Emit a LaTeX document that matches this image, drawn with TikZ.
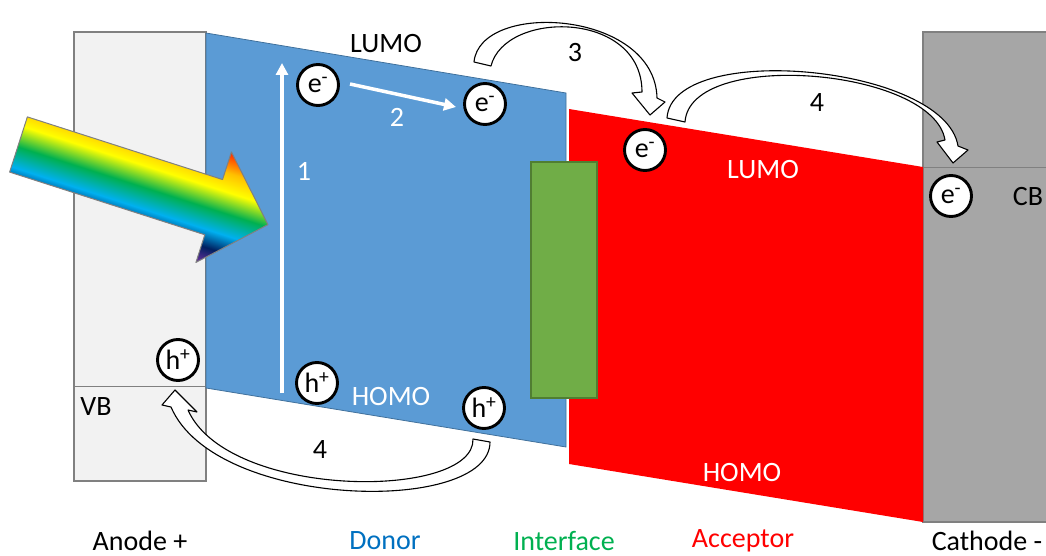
\documentclass[tikz,border=0pt]{standalone}
\usepackage{fontspec}
\setmainfont{Carlito}
\usetikzlibrary{arrows.meta}

\definecolor{donorblue}{HTML}{5B9BD5}
\definecolor{donoredge}{HTML}{41719C}
\definecolor{ifgreen}{HTML}{70AD47}
\definecolor{ifedge}{HTML}{507E32}
\definecolor{anodefill}{HTML}{F2F2F2}
\definecolor{cathodefill}{HTML}{A6A6A6}
\definecolor{framegray}{HTML}{808080}
\definecolor{labelblue}{HTML}{0070C0}
\definecolor{labelgreen}{HTML}{00B050}
\definecolor{rbred}{HTML}{FF2000}
\definecolor{rborange}{HTML}{FFC000}
\definecolor{rbyellow}{HTML}{FFFF00}
\definecolor{rbgreen}{HTML}{00B050}
\definecolor{rbcyan}{HTML}{00B0F0}
\definecolor{rbnavy}{HTML}{002060}
\definecolor{rbpurple}{HTML}{7030A0}

% light spectrum across the incoming arrow (top of head red, bottom purple)
\pgfdeclareverticalshading{spectrum}{100bp}{%
  color(0bp)=(rbpurple); color(25bp)=(rbpurple); color(32.5bp)=(rbnavy);
  color(40bp)=(rbcyan); color(49bp)=(rbgreen); color(58bp)=(rbyellow);
  color(66bp)=(rborange); color(75bp)=(rbred); color(100bp)=(rbred)}

\tikzset{
  txt/.style={font=\fontsize{28}{32}\selectfont, inner sep=0pt},
  particle/.style={circle, draw=black, line width=2.9pt, fill=white,
    minimum size=41pt, inner sep=0pt, font=\fontsize{28}{32}\selectfont},
  whitearrow/.style={draw=white, line width=3.5pt,
    -{Triangle[length=12pt,width=12pt]}},
  curvedblock/.style={draw=black, fill=white, line width=1.1pt, line join=round},
}

\begin{document}
\begin{tikzpicture}[x=1pt,y=-1pt]
\useasboundingbox (0,0) rectangle (1046,556);

% electrodes
\draw[fill=anodefill, draw=framegray, line width=1.3pt] (74,32) rectangle (206,481);
\draw[framegray, line width=1pt] (74,386) -- (206,386);
\draw[fill=cathodefill, draw=framegray, line width=1.3pt] (923,32) rectangle (1052,522);
\draw[framegray, line width=1pt] (923,168) -- (1046,168);

% donor, acceptor and interface layers
\draw[fill=donorblue, draw=donoredge, line width=0.8pt]
  (206,33) -- (566,93) -- (566,447) -- (206,388) -- cycle;
\fill[red] (569,109) -- (923,167) -- (923,522) -- (569,464) -- cycle;
\draw[fill=ifgreen, draw=ifedge, line width=2pt] (531,162) rectangle (597,398);

% incoming light
\begin{scope}[transform canvas={shift={(18.5,144.5)}, rotate=-17.8}]
  \shade[shading=spectrum, draw=framegray, line width=1pt, line join=round]
    (0,-29) -- (205,-29) -- (205,-58) -- (262,0) -- (205,58) -- (205,29)
    -- (0,29) -- cycle;
\end{scope}

% excitation (1) and relaxation (2)
\coordinate (a1s) at (282,393);
\coordinate (a1e) at (282,63);
\draw[whitearrow] (a1s) -- (a1e);
\coordinate (a2s) at (350,84);
\coordinate (a2e) at (456,107);
\draw[whitearrow] (a2s) -- (a2e);
\node[txt, white] (n1) at (304,171) {1};
\node[txt, white] (n2) at (397,117) {2};

% charge carriers
\node[particle] (e1) at (318,85) {e\textsuperscript{-}};
\node[particle] (e2) at (485,104) {e\textsuperscript{-}};
\node[particle] (e3) at (645,150) {e\textsuperscript{-}};
\node[particle] (e4) at (951,196) {e\textsuperscript{-}};
\node[particle] (h1) at (178,360) {h\textsuperscript{+}};
\node[particle] (h2) at (317,383) {h\textsuperscript{+}};
\node[particle] (h3) at (484,408) {h\textsuperscript{+}};

% level labels
\node[txt, black] (lumoD) at (386,44) {LUMO};
\node[txt, white] (homoD) at (391,397) {HOMO};
\node[txt, white] (lumoA) at (763,170) {LUMO};
\node[txt, white] (homoA) at (742,473) {HOMO};
\node[txt, black] (cb) at (1028,197) {CB};
\node[txt, black] (vb) at (96,407) {VB};

% charge transfer: donor -> acceptor (3)
\draw[curvedblock] (474,62) .. controls (480,0) and (655,10) .. (657,98)
  -- (665,102) -- (650,115) -- (632,93) -- (642,92)
  .. controls (642,10) and (505,10) .. (491,66) -- cycle;
\node[txt, black] (n3) at (575,53) {3};

% electron collection at the cathode (4)
\draw[curvedblock] (667,118) .. controls (672,40) and (945,65) .. (958,146)
  -- (968,150) -- (953,163) -- (937,142) -- (945,140)
  .. controls (933,68) and (690,48) .. (685,122) -- cycle;
\node[txt, black] (n4a) at (817,103) {4};

% hole collection at the anode (4)
\draw[curvedblock] (490,442) .. controls (490,515) and (215,510) .. (171,407)
  -- (162,405) -- (175,390) -- (197,412) -- (188,410)
  .. controls (228,500) and (475,500) .. (473,439) -- cycle;
\node[txt, black] (n4b) at (320,450) {4};

% layer names
\node[txt, black] (anode) at (140,541) {Anode +};
\node[txt, labelblue] (donor) at (385,541) {Donor};
\node[txt, labelgreen] (iface) at (564,541) {Interface};
\node[txt, red] (acceptor) at (743,541) {Acceptor};
\node[txt, black] (cathode) at (987,541) {Cathode -};
\end{tikzpicture}
\end{document}
